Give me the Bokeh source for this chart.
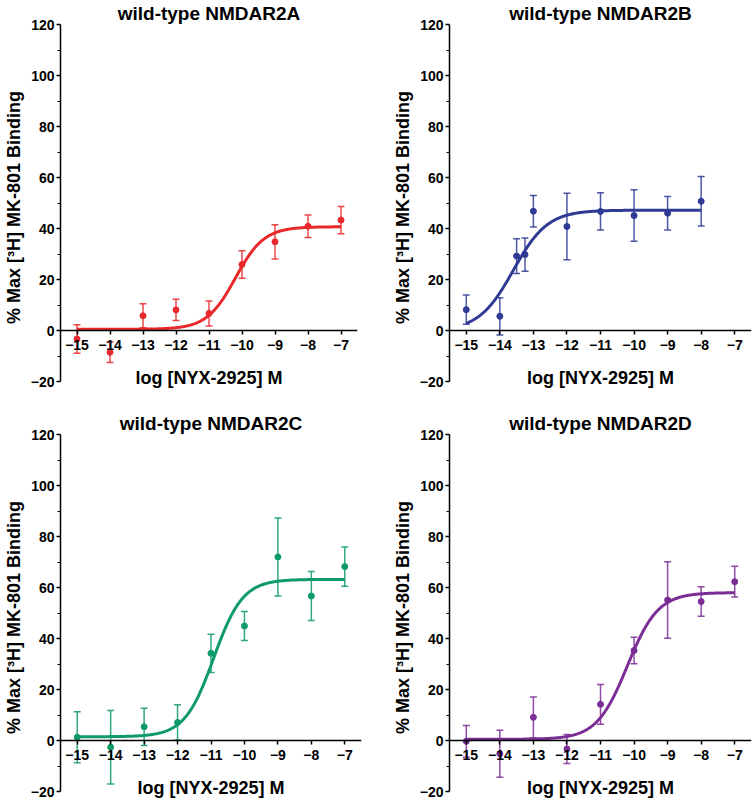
import numpy as np
from bokeh.plotting import figure
from bokeh.models import Range1d, FixedTicker, Whisker, TeeHead, ColumnDataSource
from bokeh.layouts import column, row
from bokeh.embed import file_html
from bokeh.resources import INLINE

# ---- data ----
titles = ["wild-type NMDAR2A", "wild-type NMDAR2B", "wild-type NMDAR2C", "wild-type NMDAR2D"]
x_ticks = [-15, -14, -13, -12, -11, -10, -9, -8, -7]
y_ticks = [-20, 0, 20, 40, 60, 80, 100, 120]
y_minor = [-10, 10, 30, 50, 70, 90, 110]
x_label = "log [NYX-2925] M"
y_label = "% Max [³H] MK-801 Binding"

log_conc_2A = [-15, -14, -13, -12, -11, -10, -9, -8, -7]
mean_2A = [-3.3, -8.5, 5.8, 8.1, 6.7, 25.9, 34.8, 40.9, 43.3]
sem_2A = [5.6, 4.0, 4.7, 4.2, 4.9, 5.4, 6.7, 4.4, 5.3]

log_conc_2B = [-15, -14, -13.5, -13.25, -13, -12, -11, -10, -9, -8]
mean_2B = [8.2, 5.6, 29.2, 29.8, 46.8, 40.8, 46.7, 45.1, 46.0, 50.7]
sem_2B = [5.7, 7.3, 6.8, 6.5, 6.2, 13.0, 7.3, 10.1, 6.6, 9.7]

log_conc_2C = [-15, -14, -13, -12, -11, -10, -9, -8, -7]
mean_2C = [1.3, -2.6, 5.4, 7.1, 34.2, 44.9, 72.0, 56.7, 68.2]
sem_2C = [10.0, 14.4, 7.3, 6.9, 7.5, 5.7, 15.3, 9.6, 7.7]

log_conc_2D = [-15, -14, -13, -12, -11, -10, -9, -8, -7]
mean_2D = [-0.3, -5.2, 9.1, -3.3, 14.2, 35.3, 55.1, 54.5, 62.3]
sem_2D = [6.2, 9.2, 8.0, 5.7, 7.8, 5.2, 15.0, 5.8, 6.0]

# fitted dose-response curves (bottom, top, logEC50, Hill slope, x start, x end)
fit_2A = [0.5, 40.7, -10.2, 1.0, -15, -7]
fit_2B = [0.0, 47.2, -13.6, 0.85, -15, -8]
fit_2C = [1.5, 63.2, -10.92, 1.0, -15, -7]
fit_2D = [0.5, 58.0, -10.2, 0.95, -15, -7]

colors = ["#E8282B", "#2E3A94", "#0F9A6A", "#7B2D96"]

FONT = "Liberation Sans"


def make_panel(title, xs, ms, es, fit, color, width, height, mbl, mbr, mbt, mbb):
    p = figure(width=width, height=height,
               x_range=Range1d(-15.5, -6.5), y_range=Range1d(-23.5, 120),
               output_backend="svg", toolbar_location=None,
               min_border_left=mbl, min_border_right=mbr,
               min_border_top=mbt, min_border_bottom=mbb,
               title=title)
    p.outline_line_color = None
    p.grid.visible = False
    p.background_fill_color = "white"
    p.border_fill_color = "white"

    p.title.align = "center"
    p.title.text_font = FONT
    p.title.text_font_style = "bold"
    p.title.text_font_size = "19px"
    p.title.text_color = "black"
    p.title.standoff = 1

    # x axis crossing at y = 0
    xa = p.xaxis[0]
    xa.fixed_location = 0
    xa.ticker = FixedTicker(ticks=x_ticks, minor_ticks=[])
    xa.axis_label = x_label
    xa.axis_line_width = 1.5
    xa.major_tick_line_width = 1.5
    xa.major_tick_out = 4
    xa.major_tick_in = 0
    xa.major_label_standoff = 5
    xa.axis_label_standoff = 15

    ya = p.yaxis[0]
    ya.bounds = (-20, 120)
    ya.ticker = FixedTicker(ticks=y_ticks, minor_ticks=y_minor)
    ya.axis_label = y_label
    ya.axis_line_width = 1.5
    ya.major_tick_line_width = 1.5
    ya.minor_tick_line_width = 1.2
    ya.major_tick_out = 4
    ya.major_tick_in = 0
    ya.minor_tick_out = 3
    ya.minor_tick_in = 0
    ya.major_label_standoff = 2
    ya.axis_label_standoff = 4

    for ax in (xa, ya):
        ax.major_label_text_font = FONT
        ax.major_label_text_font_style = "bold"
        ax.major_label_text_font_size = "14px"
        ax.major_label_text_color = "black"
        ax.axis_label_text_font = FONT
        ax.axis_label_text_font_style = "bold"
        ax.axis_label_text_font_size = "18px"
        ax.axis_label_text_color = "black"
        ax.axis_line_color = "black"
        ax.major_tick_line_color = "black"
        ax.minor_tick_line_color = "black"

    src = ColumnDataSource(dict(x=xs, y=ms,
                                upper=[m + e for m, e in zip(ms, es)],
                                lower=[m - e for m, e in zip(ms, es)]))
    w = Whisker(source=src, base="x", upper="upper", lower="lower",
                line_color=color, line_width=1.5, line_alpha=0.85,
                upper_head=TeeHead(size=7, line_color=color, line_width=1.5, line_alpha=0.85),
                lower_head=TeeHead(size=7, line_color=color, line_width=1.5, line_alpha=0.85))
    p.add_layout(w)

    bottom, top, ec50, hill, x0, x1 = fit
    cx = np.linspace(x0, x1, 400)
    cy = bottom + (top - bottom) / (1 + 10 ** ((ec50 - cx) * hill))
    p.line(cx, cy, line_width=3, line_color=color)

    p.scatter("x", "y", source=src, size=6, fill_color=color, line_color=color)
    return p


pA = make_panel(titles[0], log_conc_2A, mean_2A, sem_2A, fit_2A, colors[0], 376, 390, 59, 19, 22, 0)
pB = make_panel(titles[1], log_conc_2B, mean_2B, sem_2B, fit_2B, colors[1], 376, 390, 73, 1, 22, 0)
pC = make_panel(titles[2], log_conc_2C, mean_2C, sem_2C, fit_2C, colors[2], 376, 410, 60, 15, 44, 0)
pD = make_panel(titles[3], log_conc_2D, mean_2D, sem_2D, fit_2D, colors[3], 376, 410, 73, 1, 44, 0)

layout = column(row(pA, pB), row(pC, pD))

open("out.html", "w").write(file_html(layout, INLINE))
